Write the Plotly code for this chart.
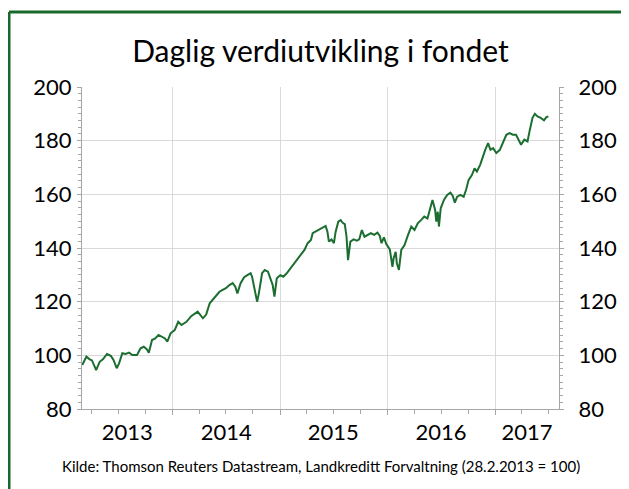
import plotly.graph_objects as go

# ---- data ----
dates = [
    "2013-02-28", "2013-03-14", "2013-03-25", "2013-04-02", "2013-04-11", "2013-04-16",
    "2013-04-28", "2013-05-09", "2013-05-23", "2013-06-05", "2013-06-14", "2013-06-25",
    "2013-07-03", "2013-07-14", "2013-07-25", "2013-08-06", "2013-08-17", "2013-09-02",
    "2013-09-14", "2013-09-25", "2013-10-06", "2013-10-12", "2013-10-23", "2013-11-03",
    "2013-11-14", "2013-11-25", "2013-12-06", "2013-12-14", "2013-12-25",
    "2014-01-08", "2014-01-20", "2014-01-31", "2014-02-17", "2014-03-05", "2014-03-27",
    "2014-04-14", "2014-04-25", "2014-05-07", "2014-05-18", "2014-05-29", "2014-06-09",
    "2014-06-20", "2014-07-01", "2014-07-13", "2014-07-24", "2014-08-02", "2014-08-09",
    "2014-08-20", "2014-09-01", "2014-09-12", "2014-09-23", "2014-09-28", "2014-10-07",
    "2014-10-15", "2014-10-21", "2014-11-01", "2014-11-10", "2014-11-21", "2014-11-29",
    "2014-12-07", "2014-12-13", "2014-12-21",
    "2015-01-02", "2015-01-12", "2015-01-23", "2015-02-09", "2015-02-26", "2015-03-14",
    "2015-03-25", "2015-04-05", "2015-04-16", "2015-04-22", "2015-05-03", "2015-05-14",
    "2015-05-25", "2015-06-05", "2015-06-11", "2015-06-16", "2015-06-25", "2015-07-03",
    "2015-07-09", "2015-07-18", "2015-07-26", "2015-08-02", "2015-08-09", "2015-08-15",
    "2015-08-20", "2015-08-28", "2015-09-08", "2015-09-19", "2015-09-27", "2015-10-06",
    "2015-10-15", "2015-10-26", "2015-11-06", "2015-11-17", "2015-11-28", "2015-12-06",
    "2015-12-12", "2015-12-20", "2015-12-28",
    "2016-01-09", "2016-01-18", "2016-01-22", "2016-01-29", "2016-02-02", "2016-02-09",
    "2016-02-17", "2016-02-28", "2016-03-11", "2016-03-22", "2016-04-02", "2016-04-13",
    "2016-04-24", "2016-05-05", "2016-05-16", "2016-05-28", "2016-06-02", "2016-06-11",
    "2016-06-15", "2016-06-20", "2016-06-24", "2016-06-30", "2016-07-11", "2016-07-22",
    "2016-08-02", "2016-08-10", "2016-08-17", "2016-08-25", "2016-09-05", "2016-09-16",
    "2016-09-24", "2016-10-03", "2016-10-14", "2016-10-23", "2016-10-31", "2016-11-11",
    "2016-11-18", "2016-11-28", "2016-12-08", "2016-12-16", "2016-12-25",
    "2017-01-05", "2017-01-17", "2017-01-28", "2017-02-08", "2017-02-19", "2017-03-02",
    "2017-03-13", "2017-03-24", "2017-03-30", "2017-04-10", "2017-04-21", "2017-04-29",
    "2017-05-08", "2017-05-16", "2017-05-25", "2017-06-05", "2017-06-16", "2017-06-24",
    "2017-07-01",
]
values = [
    96.4, 99.5, 98.5, 98.1, 95.8, 94.5,
    97.6, 98.5, 100.5, 99.8, 98.3, 95.2,
    97.0, 100.8, 100.5, 101.0, 100.1, 100.1,
    102.6, 103.2, 102.2, 101.0, 105.7, 106.3,
    107.6, 106.9, 106.3, 105.1, 108.2,
    109.4, 112.5, 111.3, 112.5, 114.6, 116.3,
    113.8, 115.2, 119.4, 120.9, 122.1, 123.7,
    124.4, 125.0, 126.2, 126.9, 125.6, 123.1,
    126.9, 129.1, 129.9, 130.6, 129.3, 124.4,
    120.0, 123.1, 130.6, 131.8, 131.2, 128.7,
    126.2, 121.9, 128.7,
    129.9, 129.3, 130.5, 133.0, 135.8, 138.0,
    139.3, 141.8, 143.0, 145.5, 146.1, 146.7,
    147.3, 148.2, 146.1, 142.4, 143.2, 141.8,
    146.1, 149.8, 150.4, 149.4, 148.9, 144.2,
    135.5, 142.4, 143.2, 142.7, 143.2, 146.7,
    144.2, 144.9, 145.5, 144.9, 145.7, 144.5,
    141.8, 144.0, 141.5,
    139.5, 133.0, 136.2, 138.6, 134.3, 131.8,
    139.3, 141.1, 144.9, 148.0, 146.7, 149.2,
    150.4, 151.7, 151.0, 156.0, 157.9, 154.2,
    149.8, 153.5, 148.0, 154.8, 157.9, 159.8,
    160.6, 159.4, 156.9, 159.1, 159.8, 159.1,
    161.6, 165.4, 167.2, 169.7, 168.5, 171.0,
    173.5, 176.5, 179.1, 176.6, 177.2,
    175.4, 176.6, 179.1, 182.2, 182.8, 182.2,
    182.2, 179.7, 178.5, 180.4, 179.7, 184.1,
    188.5, 190.0, 189.0, 188.5, 187.6, 188.8,
    189.0,
]

year_labels = ["2013", "2014", "2015", "2016", "2017"]
year_label_dates = ["2013-07-31", "2014-07-02", "2015-07-01", "2016-07-01", "2017-04-19"]
x_range = ["2013-02-27", "2017-08-06"]
y_ticks = [80, 100, 120, 140, 160, 180, 200]

title_text = "Daglig verdiutvikling i fondet"
source_text = "Kilde: Thomson Reuters Datastream, Landkreditt Forvaltning (28.2.2013 = 100)"

# ---- style ----
FONT = "Lato"
LINE_COLOR = "#1b6e30"
BORDER_COLOR = "#176a2a"
GRID = "#d9d9d9"
AXIS = "#a6a6a6"
# the page body adds an 8px offset, so the figure is sized to the visible area
W, H = 621, 481
L, R, T, B = 74, 62, 79, 80

fig = go.Figure()
fig.add_trace(go.Scatter(
    x=dates, y=values, mode="lines",
    line=dict(color=LINE_COLOR, width=2),
    showlegend=False, hoverinfo="skip",
))
# helper trace (invisible) so the overlay axes (year grid + right axis) exist
fig.add_trace(go.Scatter(
    x=dates, y=values, mode="lines", xaxis="x2", yaxis="y2",
    line=dict(color="rgba(0,0,0,0)", width=0),
    showlegend=False, hoverinfo="skip",
))

fig.update_layout(
    width=W, height=H,
    margin=dict(l=L, r=R, t=T, b=B),
    paper_bgcolor="white", plot_bgcolor="white",
    font=dict(family=FONT, color="black"),
    title=dict(text=title_text, x=0.5, xref="paper", xanchor="center",
               y=1 - 43 / H, yref="container", yanchor="middle",
               font=dict(size=30, family=FONT, color="black")),
    xaxis=dict(
        type="date", range=x_range,
        tickmode="array", tickvals=year_label_dates, ticktext=year_labels,
        ticks="", showgrid=False, zeroline=False,
        showline=True, linecolor=AXIS, linewidth=1,
        tickfont=dict(size=22, family=FONT, color="black"),
        ticklabelstandoff=4,
    ),
    xaxis2=dict(
        type="date", overlaying="x", matches="x", anchor="y", side="bottom",
        tick0="2013-01-01", dtick="M12",
        showticklabels=False, ticks="outside", ticklen=5, tickcolor=AXIS,
        showgrid=True, gridcolor=GRID, gridwidth=1, zeroline=False,
        showline=False,
        minor=dict(dtick="M3", tick0="2013-01-01", ticks="outside", ticklen=4,
                   tickcolor=AXIS, showgrid=False),
    ),
    yaxis=dict(
        range=[80, 200], tickmode="array", tickvals=y_ticks,
        ticks="outside", ticklen=4, tickcolor=AXIS,
        showgrid=True, gridcolor=GRID, gridwidth=1, zeroline=False,
        showline=True, linecolor=AXIS, linewidth=1,
        tickfont=dict(size=22, family=FONT, color="black"),
        ticklabelstandoff=1,
        minor=dict(dtick=2.5, tick0=80, ticks="outside", ticklen=3,
                   tickcolor=AXIS, showgrid=False),
    ),
    yaxis2=dict(
        overlaying="y", matches="y", side="right", anchor="x2",
        tickmode="array", tickvals=y_ticks,
        ticks="outside", ticklen=4, tickcolor=AXIS,
        showgrid=False, zeroline=False,
        showline=True, linecolor=AXIS, linewidth=1,
        tickfont=dict(size=22, family=FONT, color="black"),
        ticklabelstandoff=10,
        minor=dict(dtick=2.5, tick0=80, ticks="outside", ticklen=3,
                   tickcolor=AXIS, showgrid=False),
    ),
    annotations=[dict(
        text=source_text, xref="paper", yref="paper",
        x=0.5, y=-(458 - (H - B)) / (H - T - B), xanchor="center", yanchor="middle",
        showarrow=False, font=dict(size=15, family=FONT, color="black"),
    )],
    shapes=[
        # green frame: top and left edges
        dict(type="line", xref="paper", yref="paper",
             xsizemode="pixel", xanchor=0, x0=1 - L, x1=W - L + 4,
             ysizemode="pixel", yanchor=1, y0=T - 4, y1=T - 4,
             line=dict(color=BORDER_COLOR, width=3)),
        dict(type="line", xref="paper", yref="paper",
             xsizemode="pixel", xanchor=0, x0=1 - L, x1=1 - L,
             ysizemode="pixel", yanchor=1, y0=T - 4, y1=T - H - 4,
             line=dict(color=BORDER_COLOR, width=3)),
    ],
)

fig.write_html("out.html")
